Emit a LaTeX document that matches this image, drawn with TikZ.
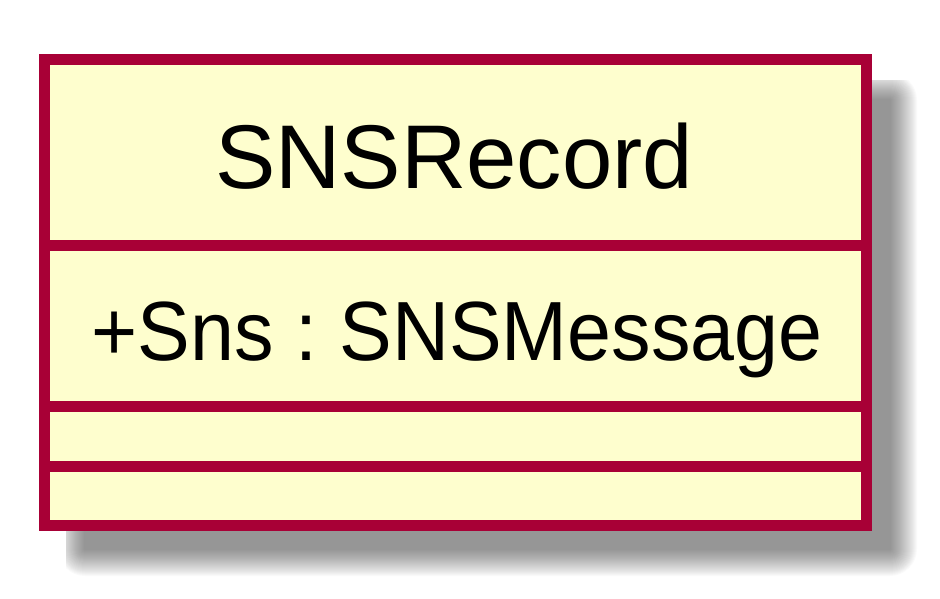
\documentclass[tikz,border=0pt]{standalone}
\usepackage{fontspec}
\setmainfont{Liberation Sans}
\frenchspacing
\definecolor{umlborder}{HTML}{A80036}
\definecolor{umlfill}{HTML}{FEFECE}
\begin{document}
\begin{tikzpicture}[x=1pt,y=-1pt,
  classframe/.style={draw=umlborder,line width=11pt,fill=umlfill},
  sepline/.style={draw=umlborder,line width=11pt},
  classtitle/.style={anchor=base,inner sep=0pt,font=\fontsize{90.5}{100}\selectfont},
  classmember/.style={anchor=base,inner sep=0pt,font=\fontsize{84}{100}\selectfont}]
\useasboundingbox (0,0) rectangle (940,599);
% soft drop shadow, cut off along its top and left
\begin{scope}
  \clip (66,81) rectangle (940,599);
  \foreach \r in {-13,-12,...,13}{
    \fill[black,opacity=0.0187,rounded corners={\r+14}]
      ({71-\r},{86-\r}) rectangle ({904+\r},{563+\r});
  }
\end{scope}
% class frame and compartment separators
\coordinate (nw) at (44.5,59.5);
\coordinate (se) at (866.5,525);
\path[classframe] (nw) rectangle (se);
\foreach \y in {245.5,406.5,466.5}{
  \draw[sepline] (39,\y) -- (872,\y);
}
\node[classtitle] (name) at (454,189) {SNSRecord};
\node[classmember] (attr) at (457,360) {\scalebox{0.94}[1]{+Sns : SNSMessage}};
\end{tikzpicture}
\end{document}
